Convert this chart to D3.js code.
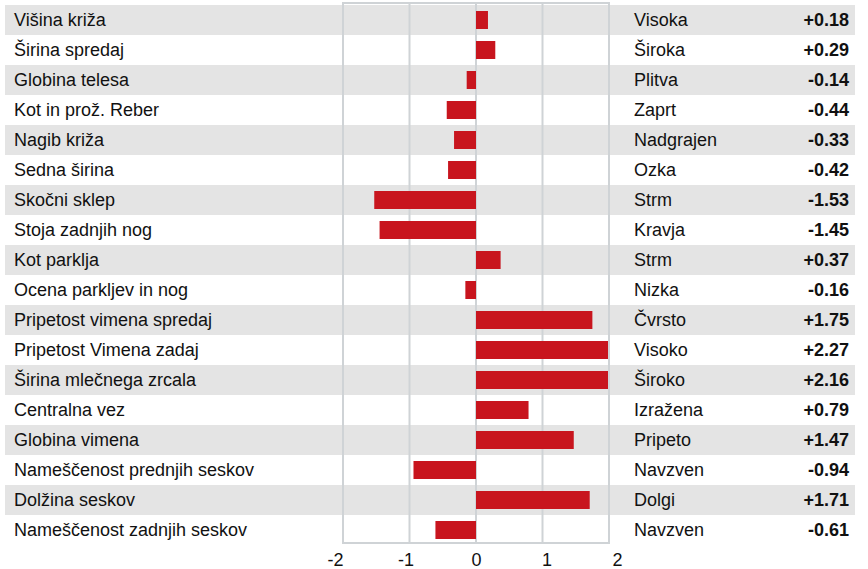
<!DOCTYPE html>
<html>
<head>
<meta charset="utf-8">
<script src="https://cdn.jsdelivr.net/npm/d3@7"></script>
<style>
  body { margin: 0; background: #fff; }
  text { font-family: "Liberation Sans", Arial, sans-serif; }
</style>
</head>
<body>
<div id="chart"></div>
<script>
// data
var traits = ["Višina križa", "Širina spredaj", "Globina telesa", "Kot in prož. Reber",
  "Nagib križa", "Sedna širina", "Skočni sklep", "Stoja zadnjih nog", "Kot parklja",
  "Ocena parkljev in nog", "Pripetost vimena spredaj", "Pripetost Vimena zadaj",
  "Širina mlečnega zrcala", "Centralna vez", "Globina vimena", "Nameščenost prednjih seskov",
  "Dolžina seskov", "Nameščenost zadnjih seskov"];
var descriptors = ["Visoka", "Široka", "Plitva", "Zaprt", "Nadgrajen", "Ozka", "Strm", "Kravja",
  "Strm", "Nizka", "Čvrsto", "Visoko", "Široko", "Izražena", "Pripeto", "Navzven", "Dolgi", "Navzven"];
var values = [0.18, 0.29, -0.14, -0.44, -0.33, -0.42, -1.53, -1.45, 0.37, -0.16,
  1.75, 2.27, 2.16, 0.79, 1.47, -0.94, 1.71, -0.61];
var ticks = [-2, -1, 0, 1, 2];

var width = 868, height = 569;

var svg = d3.select("#chart")
  .append("svg")
  .attr("width", width)
  .attr("height", height);

var rows = traits.map(function(d, i) {
  return { trait: d, desc: descriptors[i], value: values[i], i: i };
});

// scales
var y = d3.scaleBand()
  .domain(d3.range(traits.length))
  .range([5, 545]);

var x = d3.scaleLinear()
  .domain([-2, 2])
  .range([343, 609]);

// tick labels sit a little wider than the grid
var xLabel = d3.scaleLinear()
  .domain([-2, 2])
  .range([335, 617]);

// stripes
svg.selectAll(".stripe")
  .data(rows.filter(function(d) { return d.i % 2 === 0; }))
  .join("rect")
  .attr("x", 5)
  .attr("width", 850)
  .attr("y", function(d) { return y(d.i); })
  .attr("height", y.bandwidth())
  .attr("fill", "#e4e4e4");

// grid lines
svg.selectAll(".grid")
  .data([-1, 0, 1])
  .join("line")
  .attr("x1", function(d) { return x(d); })
  .attr("x2", function(d) { return x(d); })
  .attr("y1", 3)
  .attr("y2", 543)
  .attr("stroke", "#cfd3d6")
  .attr("stroke-width", 2);

// frame
svg.append("rect")
  .attr("x", x(-2))
  .attr("y", 3)
  .attr("width", x(2) - x(-2))
  .attr("height", 540)
  .attr("fill", "none")
  .attr("stroke", "#cfd3d6")
  .attr("stroke-width", 2);

// bars (clipped to the -2..2 range)
var barH = 18;
svg.selectAll(".bar")
  .data(rows)
  .join("rect")
  .attr("x", function(d) { return x(Math.min(0, d.value)); })
  .attr("width", function(d) {
    var v = Math.max(-2, Math.min(2, d.value));
    return Math.abs(x(v) - x(0)) - (d.value > 2 ? 1 : 0);
  })
  .attr("y", function(d) { return y(d.i) + (y.bandwidth() - barH) / 2; })
  .attr("height", barH)
  .attr("fill", "#c8151e");

// left labels
svg.selectAll(".trait")
  .data(rows)
  .join("text")
  .attr("x", 14)
  .attr("y", function(d) { return y(d.i) + y.bandwidth() / 2; })
  .attr("dy", "0.35em")
  .attr("font-size", 18)
  .attr("fill", "#111")
  .text(function(d) { return d.trait; });

// right descriptors
svg.selectAll(".desc")
  .data(rows)
  .join("text")
  .attr("x", 634)
  .attr("y", function(d) { return y(d.i) + y.bandwidth() / 2; })
  .attr("dy", "0.35em")
  .attr("font-size", 18)
  .attr("fill", "#111")
  .text(function(d) { return d.desc; });

// values
var fmt = d3.format("+.2f");
svg.selectAll(".val")
  .data(rows)
  .join("text")
  .attr("x", 849)
  .attr("y", function(d) { return y(d.i) + y.bandwidth() / 2; })
  .attr("dy", "0.35em")
  .attr("text-anchor", "end")
  .attr("font-size", 18)
  .attr("font-weight", "bold")
  .attr("fill", "#111")
  .text(function(d) { return fmt(d.value).replace("−", "-"); });

// x axis labels
var axis = svg.append("g")
  .attr("transform", "translate(0,553)")
  .call(d3.axisBottom(xLabel).tickValues(ticks).tickSize(0).tickFormat(function(d) { return String(d); }));
axis.select(".domain").remove();
axis.selectAll("text")
  .attr("font-size", 18)
  .attr("font-family", "Liberation Sans, Arial, sans-serif")
  .attr("fill", "#111")
  .attr("dy", "0.71em")
  .attr("y", 0);
</script>
</body>
</html>
